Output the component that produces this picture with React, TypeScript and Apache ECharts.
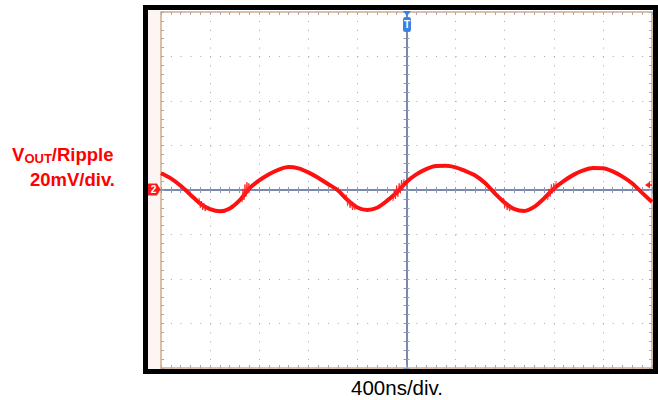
import React, { useEffect, useRef } from "react";
import * as echarts from "echarts";

// time axis (ns), trigger at 0, 400 ns/div
const timeNs = [
  -2000, -1920, -1840, -1760, -1680, -1600, -1520, -1440, -1360, -1280,
  -1200, -1120, -1040, -960, -880, -800, -720, -640, -560, -480,
  -400, -320, -240, -160, -80, 0, 80, 160, 240, 320,
  400, 480, 560, 640, 720, 800, 880, 960, 1040, 1120,
  1200, 1280, 1360, 1440, 1520, 1600, 1680, 1760, 1840, 1920, 2000,
];

// output ripple (mV), 20 mV/div
const rippleMv = [
  7.5, 5.2, 1.9, -2.1, -6.1, -8.6, -9.6, -8.3, -4.7, 0.7,
  4.3, 7.1, 9.2, 10.3, 9.7, 7.9, 5.5, 2.7, -0.1, -4.5,
  -7.9, -9.0, -8.0, -4.9, -1.1, 3.6, 7.0, 9.4, 10.8, 10.9,
  10.2, 8.5, 6.5, 3.1, -1.5, -5.7, -8.6, -9.4, -7.6, -3.8,
  0.6, 4.0, 6.8, 8.8, 9.9, 9.8, 8.4, 6.0, 2.9, -1.3, -5.4,
];

// switching-noise bursts (ns, mV); null breaks a burst
const noiseNs = [
  -1690, -1680, -1670, -1660, -1650, -1640, -1630, null,
  -1340, -1332, -1324, -1316, -1308, -1300, -1292, -1284, -1276, null,
  -490, -480, -470, -460, -450, -440, -430, -420, null,
  -110, -100, -90, -80, -70, -60, -50, -40, -30, -20, null,
  790, 800, 810, 820, 830, 840, 850, null,
  1150, 1160, 1170, 1180, 1190, 1200, 1210, 1220,
];
const noiseMv = [
  -3.5, -8, -5, -9, -6, -9.5, -7, null,
  -5.5, 0.5, -4.5, 2.5, -3, 3.5, -1.5, 3, -0.5, null,
  -2, -7, -4, -8, -5, -9, -6.5, -9, null,
  -5, 0, -4, 2, -3, 3, -1.5, 4.5, 0, 5, null,
  -3.5, -8, -5, -9, -6, -9.5, -7, null,
  -4.5, 0.5, -3, 2.5, -1.5, 3, 0, 4,
];

const xRange = { min: -2000, max: 2000, interval: 400 };
const yRange = { min: -80, max: 80, interval: 20 };

const yLabelLine1 = ["V", "OUT", "/Ripple"];
const yLabelLine2 = "20mV/div.";
const xLabel = "400ns/div.";

const FONT = "'Liberation Sans', Arial, Helvetica, sans-serif";
const CENTER = "#7181a6";
const CTICK = "#8d99b8";
const EDGE = "#d3ab88";
const ETICK = "#a9a9b6";
const DOT = "#a6a6a6";

export default function App() {
  const ref = useRef<HTMLDivElement>(null);

  useEffect(() => {
    if (!ref.current) return;
    const chart = echarts.init(ref.current, undefined, { renderer: "svg" });

    const baseX = {
      type: "value",
      ...xRange,
      axisLabel: { show: false },
      splitLine: { show: false },
    };
    const baseY = {
      type: "value",
      ...yRange,
      axisLabel: { show: false },
      splitLine: { show: false },
    };
    const centerTicks = {
      axisTick: { show: true, length: 3, lineStyle: { color: CTICK, width: 1 } },
      minorTick: { show: true, splitNumber: 5, length: 3, lineStyle: { color: CTICK, width: 1 } },
    };
    const edgeTicks = {
      axisTick: { show: true, inside: true, length: 3, lineStyle: { color: ETICK, width: 1 } },
      minorTick: { show: true, splitNumber: 5, length: 3, lineStyle: { color: ETICK, width: 1 } },
    };

    const option: any = {
      animation: false,
      backgroundColor: "#ffffff",
      grid: { left: 161, top: 12, width: 491, height: 356, containLabel: false },
      xAxis: [
        {
          ...baseX,
          position: "bottom",
          axisLine: { show: true, onZero: true, onZeroAxisIndex: 0, lineStyle: { color: CENTER, width: 1.5 } },
          ...centerTicks,
        },
        {
          ...baseX,
          position: "top",
          axisLine: { show: true, onZero: true, onZeroAxisIndex: 0, lineStyle: { color: CENTER, width: 1.5 } },
          ...centerTicks,
        },
        {
          ...baseX,
          position: "bottom",
          axisLine: { show: true, onZero: false, lineStyle: { color: EDGE, width: 1.5 } },
          ...edgeTicks,
          splitLine: { show: true, lineStyle: { color: DOT, width: 1, type: [1, 7.9] } },
        },
        {
          ...baseX,
          position: "top",
          axisLine: { show: true, onZero: false, lineStyle: { color: EDGE, width: 1.5 } },
          ...edgeTicks,
        },
      ],
      yAxis: [
        {
          ...baseY,
          position: "left",
          axisLine: { show: true, onZero: true, onZeroAxisIndex: 0, lineStyle: { color: CENTER, width: 1.5 } },
          ...centerTicks,
        },
        {
          ...baseY,
          position: "right",
          axisLine: { show: true, onZero: true, onZeroAxisIndex: 0, lineStyle: { color: CENTER, width: 1.5 } },
          ...centerTicks,
        },
        {
          ...baseY,
          position: "left",
          axisLine: { show: true, onZero: false, lineStyle: { color: EDGE, width: 1.5 } },
          ...edgeTicks,
          splitLine: { show: true, lineStyle: { color: DOT, width: 1, type: [1, 8.82] } },
        },
        {
          ...baseY,
          position: "right",
          axisLine: { show: true, onZero: false, lineStyle: { color: EDGE, width: 1.5 } },
          ...edgeTicks,
        },
      ],
      series: [
        {
          type: "line",
          xAxisIndex: 0,
          yAxisIndex: 0,
          data: timeNs.map((t, i) => [t, rippleMv[i]]),
          showSymbol: false,
          smooth: 0.3,
          lineStyle: { color: "#ff1010", width: 4 },
          z: 5,
        },
        {
          type: "line",
          xAxisIndex: 0,
          yAxisIndex: 0,
          data: noiseNs.map((t, i) => (t === null ? [null, null] : [t, noiseMv[i]])),
          showSymbol: false,
          connectNulls: false,
          lineStyle: { color: "#ff2020", width: 1, opacity: 0.9 },
          z: 6,
        },
      ],
      graphic: [
        { type: "rect", shape: { x: 148, y: 10, width: 13, height: 359 }, style: { fill: "#fdf4f4" }, z: -1 },
        {
          type: "rect",
          shape: { x: 145.5, y: 7.5, width: 510, height: 364 },
          style: { fill: "none", stroke: "#000000", lineWidth: 5 },
          z: 20,
        },
        // channel 2 marker
        {
          type: "polygon",
          shape: { points: [[148, 183.5], [157, 183.5], [160.5, 189.5], [157, 195.5], [148, 195.5]] },
          style: { fill: "#ff1a1a" },
          z: 21,
        },
        {
          type: "text",
          x: 153.5,
          y: 189.5,
          style: { text: "2", fill: "#ffffff", font: `bold 10px ${FONT}`, align: "center", verticalAlign: "middle" },
          z: 22,
        },
        // trigger marker
        {
          type: "polygon",
          shape: { points: [[403, 11], [411, 11], [407, 16]] },
          style: { fill: "#3a82e6" },
          z: 21,
        },
        {
          type: "rect",
          shape: { x: 403, y: 17, width: 8, height: 15, r: 2.5 },
          style: { fill: "#3a82e6" },
          z: 21,
        },
        {
          type: "text",
          x: 407,
          y: 24.5,
          style: { text: "T", fill: "#ffffff", font: `bold 10px ${FONT}`, align: "center", verticalAlign: "middle" },
          z: 22,
        },
        // right-edge arrow
        {
          type: "polygon",
          shape: { points: [[645, 185], [650, 181.5], [650, 188.5]] },
          style: { fill: "#ff1a1a" },
          z: 21,
        },
        {
          type: "line",
          shape: { x1: 648, y1: 185, x2: 652, y2: 185 },
          style: { stroke: "#ff1a1a", lineWidth: 1.5 },
          z: 21,
        },
        // y label
        {
          type: "text",
          x: 12,
          y: 154.3,
          style: { text: yLabelLine1[0], fill: "#ff0000", font: `bold 18.5px ${FONT}`, verticalAlign: "middle" },
        },
        {
          type: "text",
          x: 24.5,
          y: 158.2,
          style: { text: yLabelLine1[1], fill: "#ff0000", font: `bold 13px ${FONT}`, verticalAlign: "middle" },
        },
        {
          type: "text",
          x: 113.5,
          y: 154.3,
          style: {
            text: yLabelLine1[2],
            fill: "#ff0000",
            font: `bold 18.5px ${FONT}`,
            align: "right",
            verticalAlign: "middle",
          },
        },
        {
          type: "text",
          x: 115,
          y: 179.6,
          style: { text: yLabelLine2, fill: "#ff0000", font: `bold 18.5px ${FONT}`, align: "right", verticalAlign: "middle" },
        },
        {
          type: "text",
          x: 397,
          y: 387.9,
          style: { text: xLabel, fill: "#000000", font: `20.5px ${FONT}`, align: "center", verticalAlign: "middle" },
        },
      ],
    };

    chart.setOption(option);
    return () => chart.dispose();
  }, []);

  return (
    <div
      ref={ref}
      style={{ position: "fixed", left: 0, top: 0, width: 658, height: 400, background: "#ffffff" }}
    />
  );
}
